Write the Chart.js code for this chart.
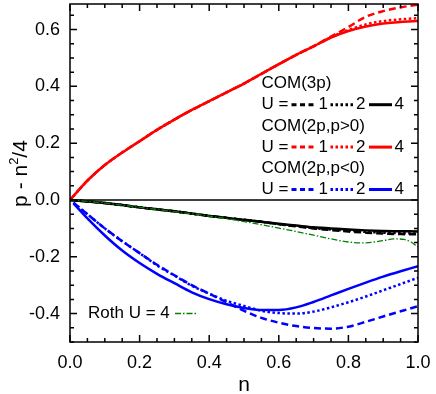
<!DOCTYPE html>
<html>
<head>
<meta charset="utf-8">
<script src="https://cdn.jsdelivr.net/npm/chart.js@4/dist/chart.umd.min.js"></script>
<style>
  html, body { margin: 0; padding: 0; background: #fff; }
  canvas { display: block; }
</style>
</head>
<body>
<canvas id="myChart" width="436" height="394"></canvas>
<script>
// n values
const nGrid = [0, 0.05, 0.1, 0.15, 0.2, 0.25, 0.3, 0.35, 0.4, 0.45, 0.5,
  0.55, 0.6, 0.65, 0.7, 0.75, 0.8, 0.85, 0.9, 0.95, 1.0];
const nBlue = [0.01, 0.05, 0.1, 0.15, 0.2, 0.25, 0.3, 0.35, 0.4, 0.45, 0.5,
  0.55, 0.6, 0.65, 0.7, 0.75, 0.8, 0.85, 0.9, 0.95, 1.0];
const nRoth = [0, 0.05, 0.1, 0.15, 0.2, 0.25, 0.3, 0.35, 0.4, 0.45, 0.5,
  0.55, 0.6, 0.65, 0.7, 0.75, 0.8, 0.85, 0.9, 0.93, 0.96, 0.98, 1.0];

// COM(3p), black
const com3pU1 = [0, -0.005, -0.011, -0.018, -0.026, -0.033, -0.04, -0.048, -0.056, -0.063, -0.07,
  -0.077, -0.085, -0.093, -0.1, -0.106, -0.111, -0.115, -0.118, -0.12, -0.121];
const com3pU2 = [0, -0.005, -0.011, -0.018, -0.026, -0.033, -0.04, -0.048, -0.056, -0.063, -0.07,
  -0.077, -0.085, -0.092, -0.099, -0.104, -0.108, -0.112, -0.115, -0.117, -0.118];
const com3pU4 = [0, -0.005, -0.011, -0.018, -0.026, -0.033, -0.04, -0.048, -0.056, -0.063, -0.07,
  -0.077, -0.084, -0.09, -0.096, -0.1, -0.104, -0.107, -0.109, -0.11, -0.111];

// COM(2p,p>0), red
const comPosU1 = [0, 0.068, 0.123, 0.167, 0.207, 0.247, 0.283, 0.317, 0.348, 0.379, 0.41,
  0.444, 0.478, 0.511, 0.542, 0.575, 0.609, 0.645, 0.665, 0.678, 0.688];
const comPosU2 = [0, 0.068, 0.123, 0.167, 0.207, 0.247, 0.283, 0.317, 0.348, 0.379, 0.41,
  0.444, 0.478, 0.511, 0.541, 0.573, 0.598, 0.618, 0.63, 0.636, 0.64];
const comPosU4 = [0, 0.068, 0.123, 0.167, 0.207, 0.247, 0.283, 0.317, 0.348, 0.379, 0.41,
  0.444, 0.478, 0.511, 0.541, 0.572, 0.595, 0.611, 0.621, 0.627, 0.63];

// COM(2p,p<0), blue
const comNegU1 = [-0.01, -0.05, -0.1, -0.145, -0.187, -0.228, -0.265, -0.3, -0.33, -0.36, -0.39,
  -0.415, -0.432, -0.444, -0.451, -0.453, -0.446, -0.429, -0.41, -0.392, -0.374];
const comNegU2 = [-0.01, -0.05, -0.1, -0.145, -0.187, -0.23, -0.266, -0.302, -0.33, -0.355, -0.373,
  -0.39, -0.398, -0.4, -0.393, -0.378, -0.36, -0.34, -0.318, -0.296, -0.274];
const comNegU4 = [-0.012, -0.065, -0.125, -0.178, -0.222, -0.26, -0.293, -0.325, -0.349, -0.367, -0.38,
  -0.387, -0.387, -0.378, -0.359, -0.336, -0.313, -0.291, -0.27, -0.251, -0.233];

// Roth U = 4, green
const rothU4 = [0, -0.005, -0.011, -0.018, -0.026, -0.033, -0.041, -0.049, -0.057, -0.066, -0.076,
  -0.087, -0.099, -0.111, -0.124, -0.137, -0.148, -0.151, -0.143, -0.137, -0.139, -0.148, -0.165];

const xTicks = [0, 0.2, 0.4, 0.6, 0.8, 1.0];
const yTicks = [-0.4, -0.2, 0, 0.2, 0.4, 0.6];
const groupLabels = ["COM(3p)", "COM(2p,p>0)", "COM(2p,p<0)"];
const uLabels = ["1", "2", "4"];

const FONT = "'Liberation Sans', Arial, sans-serif";
const RED = "#ff0000", BLUE = "#0000ff", BLACK = "#000000", GREEN = "#008000";
const DASH = [7, 4], DOT = [2.5, 2.5];

function pts(xs, ys) {
  return xs.map((x, i) => ({ x: x, y: ys[i] }));
}

function line(data, color, dash, width) {
  return {
    data: data,
    borderColor: color,
    backgroundColor: color,
    borderWidth: width || 2.5,
    borderDash: dash,
    borderCapStyle: "butt",
    pointRadius: 0,
    fill: false,
    cubicInterpolationMode: "monotone",
  };
}

const datasets = [
  line(pts(nRoth, rothU4), GREEN, [6, 2, 1.5, 2], 1.3),
  line(pts(nGrid, com3pU1), BLACK, DASH),
  line(pts(nGrid, com3pU2), BLACK, DOT),
  line(pts(nGrid, com3pU4), BLACK, []),
  line(pts(nGrid, comPosU1), RED, DASH),
  line(pts(nGrid, comPosU2), RED, DOT),
  line(pts(nGrid, comPosU4), RED, []),
  line(pts(nBlue, comNegU1), BLUE, DASH),
  line(pts(nBlue, comNegU2), BLUE, DOT),
  line(pts(nBlue, comNegU4), BLUE, []),
];

// frame, inward ticks, zero line, legend and axis titles
const decorPlugin = {
  id: "decor",
  beforeDatasetsDraw(chart) {
    const { ctx, chartArea, scales } = chart;
    const y0 = scales.y.getPixelForValue(0);
    ctx.save();
    ctx.strokeStyle = "#000";
    ctx.lineWidth = 1.5;
    ctx.beginPath();
    ctx.moveTo(chartArea.left, y0);
    ctx.lineTo(chartArea.right, y0);
    ctx.stroke();
    ctx.restore();
  },
  afterDatasetsDraw(chart) {
    const { ctx, chartArea: a, scales } = chart;
    ctx.save();
    ctx.strokeStyle = "#000";
    ctx.lineWidth = 1.5;
    ctx.strokeRect(a.left, a.top, a.right - a.left, a.bottom - a.top);

    // ticks every 0.05, major every 0.2
    for (let i = 0; i <= 20; i++) {
      const x = scales.x.getPixelForValue(i * 0.05);
      const len = i % 4 === 0 ? 7 : 4;
      ctx.beginPath();
      ctx.moveTo(x, a.bottom); ctx.lineTo(x, a.bottom - len);
      ctx.moveTo(x, a.top); ctx.lineTo(x, a.top + len);
      ctx.stroke();
    }
    for (let i = -10; i <= 13; i++) {
      const y = scales.y.getPixelForValue(i * 0.05);
      const len = i % 4 === 0 ? 7 : 4;
      ctx.beginPath();
      ctx.moveTo(a.left, y); ctx.lineTo(a.left + len, y);
      ctx.moveTo(a.right, y); ctx.lineTo(a.right - len, y);
      ctx.stroke();
    }

    // legend
    const sets = [[1, 2, 3], [4, 5, 6], [7, 8, 9]];
    const lx = 261.5;
    let ry = 83.5;
    const rowGap = 21.2;
    ctx.fillStyle = "#000";
    ctx.font = "17px " + FONT;
    ctx.textBaseline = "middle";
    ctx.textAlign = "left";
    const samples = [[291.5, 316], [330.5, 353.5], [369, 392]];
    const digitX = [318.5, 356, 394.5];
    groupLabels.forEach((g, gi) => {
      ctx.fillText(g, lx, ry);
      ry += rowGap;
      ctx.fillText("U =", lx, ry);
      sets[gi].forEach((di, k) => {
        const ds = chart.data.datasets[di];
        ctx.save();
        ctx.strokeStyle = ds.borderColor;
        ctx.lineWidth = 3;
        ctx.setLineDash(k === 0 ? [5, 3.5] : ds.borderDash);
        ctx.beginPath();
        ctx.moveTo(samples[k][0], ry);
        ctx.lineTo(samples[k][1], ry);
        ctx.stroke();
        ctx.restore();
        ctx.fillText(uLabels[k], digitX[k], ry);
      });
      ry += rowGap;
    });

    // Roth label
    const rothY = 313.5;
    ctx.fillText("Roth U = 4", 88, rothY);
    const r = chart.data.datasets[0];
    ctx.save();
    ctx.strokeStyle = r.borderColor;
    ctx.lineWidth = r.borderWidth;
    ctx.setLineDash(r.borderDash);
    ctx.beginPath();
    ctx.moveTo(175, rothY);
    ctx.lineTo(196, rothY);
    ctx.stroke();
    ctx.restore();

    // x title
    ctx.font = "21px " + FONT;
    ctx.textAlign = "center";
    ctx.textBaseline = "alphabetic";
    ctx.fillText("n", (a.left + a.right) / 2, 391);

    // y title with superscript
    ctx.translate(27, 173.5);
    ctx.rotate(-Math.PI / 2);
    ctx.textAlign = "left";
    const big = "21px " + FONT, small = "13px " + FONT;
    ctx.font = big;
    const w1 = ctx.measureText("p - n").width;
    const w3 = ctx.measureText("/4").width;
    ctx.font = small;
    const w2 = ctx.measureText("2").width;
    let x = -(w1 + w2 + w3) / 2;
    ctx.font = big;
    ctx.fillText("p - n", x, 0);
    x += w1;
    ctx.font = small;
    ctx.fillText("2", x, -9);
    x += w2;
    ctx.font = big;
    ctx.fillText("/4", x, 0);
    ctx.restore();
  },
};

new Chart(document.getElementById("myChart"), {
  type: "line",
  data: { datasets: datasets },
  options: {
    responsive: false,
    animation: false,
    devicePixelRatio: 1,
    layout: { padding: { left: 0, right: 18, top: 4, bottom: 0 } },
    plugins: { legend: { display: false }, tooltip: { enabled: false } },
    scales: {
      x: {
        type: "linear",
        min: 0,
        max: 1,
        grid: { display: false, drawTicks: false },
        border: { display: false },
        afterBuildTicks: (axis) => { axis.ticks = xTicks.map((v) => ({ value: v })); },
        afterFit: (s) => { s.height = 52; s.paddingLeft = 0; s.paddingRight = 0; },
        ticks: {
          color: "#000",
          font: { family: FONT, size: 18 },
          padding: 10,
          maxRotation: 0,
          autoSkip: false,
          callback: (v) => v.toFixed(1),
        },
      },
      y: {
        type: "linear",
        min: -0.5,
        max: 0.69,
        grid: { display: false, drawTicks: false },
        border: { display: false },
        afterBuildTicks: (axis) => { axis.ticks = yTicks.map((v) => ({ value: v })); },
        afterFit: (s) => { s.width = 70; s.paddingTop = 0; s.paddingBottom = 0; },
        ticks: {
          color: "#000",
          font: { family: FONT, size: 18 },
          padding: 10,
          autoSkip: false,
          callback: (v) => v.toFixed(1),
        },
      },
    },
  },
  plugins: [decorPlugin],
});
</script>
</body>
</html>
